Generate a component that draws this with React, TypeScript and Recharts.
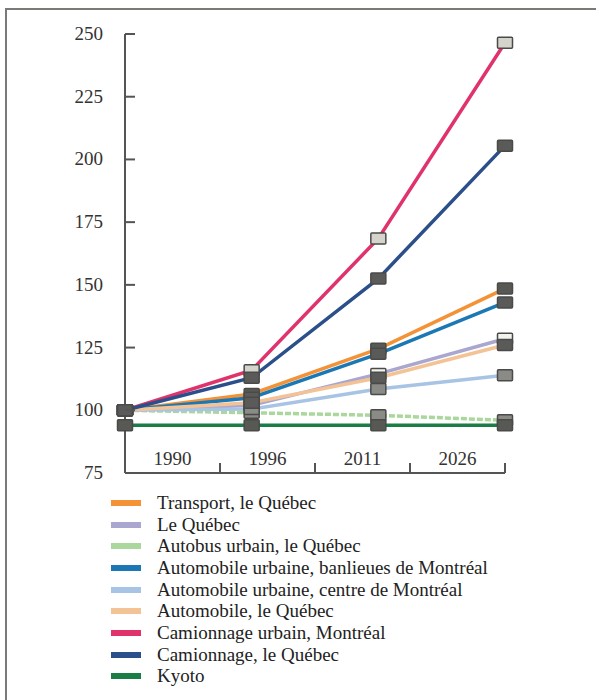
// emissions index by transport segment, 1990 = 100
import { LineChart, Line, XAxis, YAxis } from "recharts";

const years = ["1990", "1996", "2011", "2026"];
const yTicks = [75, 100, 125, 150, 175, 200, 225, 250];

const transport = [100, 106.5, 124.5, 148.5];
const leQuebec = [100, 102, 114.5, 128.5];
const autobus = [100, 99, 98, 96];
const banlieues = [100, 105, 122.5, 143];
const centre = [100, 100.5, 108.5, 114];
const automobile = [100, 103, 113, 126];
const camionUrbain = [100, 116, 168.5, 246.5];
const camionQc = [100, 113, 152.5, 205.5];
const kyoto = [94, 94, 94, 94];

const series = [
  { key: "transport", name: "Transport, le Québec", values: transport, color: "#f39237", marker: "#585855" },
  { key: "leQuebec", name: "Le Québec", values: leQuebec, color: "#a9a6cf", marker: "#f2f2ee" },
  { key: "autobus", name: "Autobus urbain, le Québec", values: autobus, color: "#aad89c", marker: "#8a8a86" },
  { key: "banlieues", name: "Automobile urbaine, banlieues de Montréal", values: banlieues, color: "#1b78b4", marker: "#5a5a58" },
  { key: "centre", name: "Automobile urbaine, centre de Montréal", values: centre, color: "#a8c4e4", marker: "#8a8a86" },
  { key: "automobile", name: "Automobile, le Québec", values: automobile, color: "#f3c396", marker: "#5a5a58" },
  { key: "camionUrbain", name: "Camionnage urbain, Montréal", values: camionUrbain, color: "#e0336b", marker: "#d4d4cc" },
  { key: "camionQc", name: "Camionnage, le Québec", values: camionQc, color: "#2b4f8a", marker: "#5a5a58" },
  { key: "kyoto", name: "Kyoto", values: kyoto, color: "#1a7d45", marker: "#585855" },
];

const data = years.map((year, i) => {
  const row: Record<string, number | string> = { idx: i, year };
  series.forEach((s) => {
    row[s.key] = s.values[i];
  });
  return row;
});

const FONT = "'Liberation Serif', serif";
const HALF_BAND = 47.5;

const XTick = (props: any) => {
  const { x, y, payload, index } = props;
  const i = payload.index ?? index;
  return (
    <g>
      {i > 0 && <line x1={x} x2={x} y1={y} y2={y - 10} stroke="#555" strokeWidth={2} />}
      {i < years.length && (
        <text x={x + HALF_BAND} y={y - 8} textAnchor="middle" fontFamily={FONT} fontSize={19} fill="#333">
          {years[i]}
        </text>
      )}
    </g>
  );
};

const YTick = (props: any) => {
  const { x, y, payload } = props;
  return (
    <g>
      <line x1={x} x2={x + 10} y1={y} y2={y} stroke="#555" strokeWidth={2} />
      <text x={x - 22} y={y} dy={6} textAnchor="end" fontFamily={FONT} fontSize={19} fill="#333">
        {payload.value}
      </text>
    </g>
  );
};

const makeDot = (fill: string) => (props: any) => {
  const { cx, cy, index } = props;
  return (
    <rect key={index} x={cx - 7.5} y={cy - 5.5} width={15} height={11} rx={1} fill={fill} stroke="#4a4a48" strokeWidth={1.5} />
  );
};

export default function App() {
  return (
    <div style={{ position: "absolute", left: 0, top: 0, width: 596, height: 700, background: "#fff" }}>
      <div
        style={{
          position: "absolute",
          left: 5,
          top: 8,
          width: 600,
          height: 700,
          borderTop: "2px solid #7a7a76",
          borderLeft: "2px solid #7a7a76",
        }}
      />
      <div style={{ position: "absolute", left: 0, top: 0 }}>
        <LineChart width={596} height={500} data={data} margin={{ top: 34, right: 91, bottom: 26, left: 0 }}>
          <XAxis
            dataKey="idx"
            type="number"
            domain={[0, 3]}
            ticks={[0, 0.75, 1.5, 2.25, 3]}
            interval={0}
            height={1}
            tickSize={0}
            tickMargin={0}
            tickLine={false}
            tick={<XTick />}
            axisLine={{ stroke: "#555", strokeWidth: 2 }}
          />
          <YAxis
            type="number"
            domain={[75, 250]}
            ticks={yTicks}
            interval={0}
            width={125}
            tickSize={0}
            tickMargin={0}
            tickLine={false}
            tick={<YTick />}
            axisLine={{ stroke: "#555", strokeWidth: 2 }}
          />
          {series.map((s) => (
            <Line
              key={s.key}
              dataKey={s.key}
              name={s.name}
              stroke={s.color}
              strokeWidth={3.5}
              strokeDasharray={s.key === "autobus" ? "6 2" : undefined}
              dot={makeDot(s.marker)}
              activeDot={false}
              isAnimationActive={false}
            />
          ))}
        </LineChart>
      </div>
      <div style={{ position: "absolute", left: 111, top: 492, fontFamily: FONT, fontSize: 19, color: "#222" }}>
        {series.map((s) => (
          <div key={s.key} style={{ display: "flex", alignItems: "center", height: 21.7 }}>
            <span style={{ display: "inline-block", width: 30, height: 6, background: s.color, marginRight: 16 }} />
            <span>{s.name}</span>
          </div>
        ))}
      </div>
    </div>
  );
}
